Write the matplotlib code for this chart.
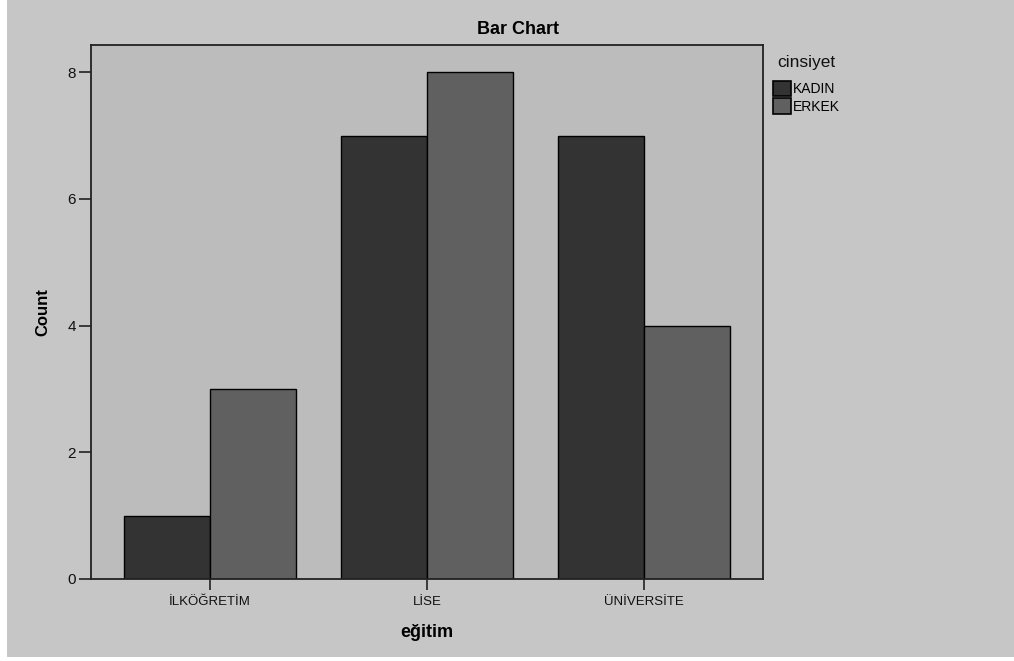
import matplotlib
matplotlib.use('Agg')
import matplotlib.pyplot as plt
import numpy as np
from matplotlib.patches import Rectangle

plt.rcParams['font.family'] = ['Liberation Sans', 'DejaVu Sans']

categories = ['İLKÖĞRETİM', 'LİSE', 'ÜNİVERSİTE']
kadin = [1, 7, 7]
erkek = [3, 8, 4]
series_names = ['KADIN', 'ERKEK']
legend_title = 'cinsiyet'
yticks = [0, 2, 4, 6, 8]

W, H = 1014, 661
fig = plt.figure(figsize=(W / 100, H / 100), dpi=100, facecolor='white')

# gray page background (white strip left and bottom)
fig.patches.append(Rectangle((7 / W, 4 / H), 1 - 7 / W, 1 - 4 / H,
                             transform=fig.transFigure, facecolor='#c6c6c6',
                             edgecolor='none', zorder=-10))

ax = fig.add_axes([91 / W, 1 - 579 / H, (763 - 91) / W, (579 - 45) / H])
ax.set_facecolor('#bcbcbc')

x = np.arange(len(categories))
bw = 0.396
ax.bar(x - bw / 2, kadin, bw, color='#333333', edgecolor='black', linewidth=1,
       label=series_names[0])
ax.bar(x + bw / 2, erkek, bw, color='#606060', edgecolor='black', linewidth=1,
       label=series_names[1])

ax.set_xlim(-0.548, 2.548)
ax.set_ylim(0, 8.43)
ax.set_xticks(x)
ax.set_xticklabels(categories, fontsize=9.5)
ax.set_yticks(yticks)
ax.tick_params(axis='both', direction='out', width=1.2, color='#222222',
               labelcolor='#111111', pad=2)
ax.tick_params(axis='x', labelsize=9.5, length=8, pad=4)
ax.tick_params(axis='y', labelsize=11, length=9)
for s in ax.spines.values():
    s.set_color('#222222')
    s.set_linewidth(1.3)

ax.set_ylabel('Count', fontsize=12, fontweight='bold', labelpad=12)
ax.set_xlabel('eğitim', fontsize=13, fontweight='bold', labelpad=12)

fig.text(518 / W, 1 - 30 / H, 'Bar Chart', fontsize=13, fontweight='bold',
         ha='center', va='center')

# legend: title as separate text, entries below it
fig.text(777 / W, 1 - 63 / H, legend_title, fontsize=12.5, ha='left', va='center',
         color='#111111')
leg = ax.legend(loc='upper left', bbox_to_anchor=(773 / W, 1 - 81 / H),
                bbox_transform=fig.transFigure,
                frameon=False, fontsize=10, borderpad=0, borderaxespad=0,
                handlelength=1.3, handleheight=1.3, handletextpad=0.1,
                labelspacing=0.16)
for p in leg.get_patches():
    p.set_edgecolor('black')
    p.set_linewidth(1.2)

fig.savefig('out.png', dpi=100, facecolor='white')
